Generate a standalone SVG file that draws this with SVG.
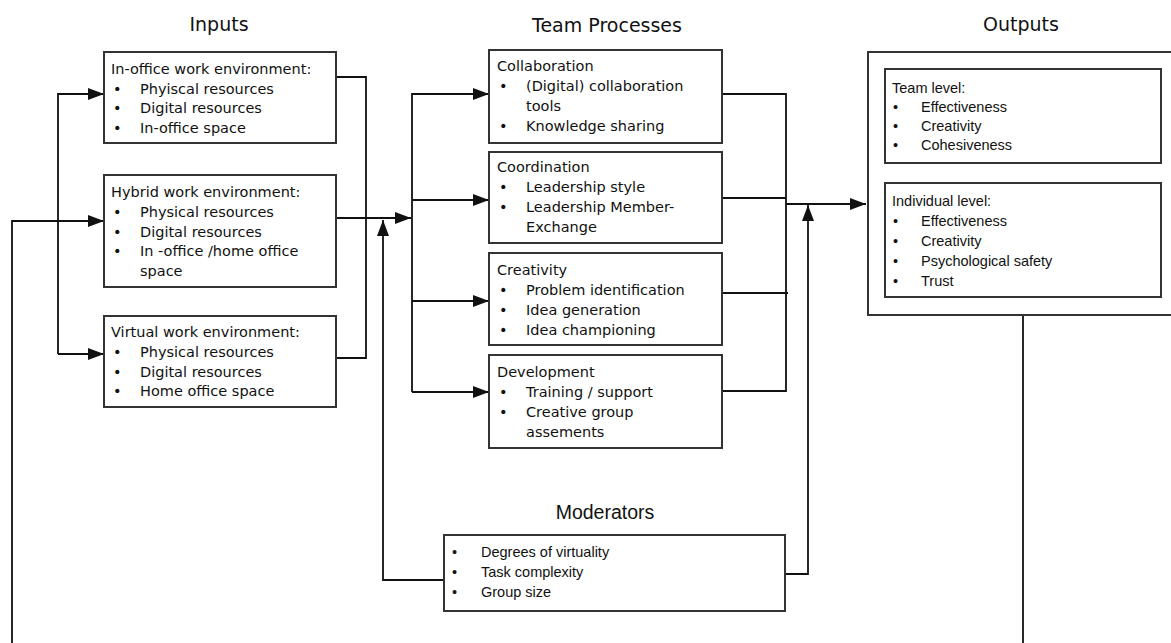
<svg xmlns="http://www.w3.org/2000/svg" width="1171" height="643" viewBox="0 0 1171 643">
  <defs>
    <marker id="arrow" markerUnits="userSpaceOnUse" markerWidth="16" markerHeight="12" refX="16" refY="6" orient="auto">
      <path d="M0,0 L16,6 L0,12 z" fill="#111"/>
    </marker>
    <style>
      .box { fill: #fff; stroke: #333; stroke-width: 2; }
      .wire { fill: none; stroke: #111; stroke-width: 1.8; }
      .arr { marker-end: url(#arrow); }
      .title { font-family: "DejaVu Sans", Verdana, sans-serif; font-size: 19px; fill: #111; text-anchor: middle; }
      .tv { font-family: "DejaVu Sans", Verdana, sans-serif; font-size: 14.5px; fill: #111; }
      .ta { font-family: "Liberation Sans", Arial, sans-serif; font-size: 14.5px; fill: #111; }
      .ttl-a { font-family: "Liberation Sans", Arial, sans-serif; font-size: 19.5px; fill: #111; text-anchor: middle; }
    </style>
  </defs>
  <rect width="1171" height="643" fill="#fff"/>

  <!-- section headings -->
  <text class="title" x="219" y="31">Inputs</text>
  <text class="title" x="607" y="32">Team Processes</text>
  <text class="title" x="1021" y="31">Outputs</text>
  <text class="ttl-a" x="605" y="519">Moderators</text>

  <!-- connectors -->
  <g id="connectors">
    <!-- feed into input boxes -->
    <polyline class="wire arr" points="58,354 58,94 104,94"/>
    <polyline class="wire arr" points="58,354 104,354"/>
    <polyline class="wire arr" points="12,643 12,221 104,221"/>
    <!-- inputs to processes -->
    <polyline class="wire" points="336,77 366,77 366,358 336,358"/>
    <polyline class="wire arr" points="336,218 411,218"/>
    <!-- process fan-out -->
    <polyline class="wire arr" points="412,392 412,94 489,94"/>
    <polyline class="wire arr" points="412,200 489,200"/>
    <polyline class="wire arr" points="412,301 489,301"/>
    <polyline class="wire arr" points="412,392 489,392"/>
    <!-- processes to outputs -->
    <polyline class="wire" points="722,94 786,94 786,391 722,391"/>
    <polyline class="wire" points="722,198 786,198"/>
    <polyline class="wire" points="722,293 788,293"/>
    <polyline class="wire arr" points="786,204 866,204"/>
    <!-- moderator links -->
    <polyline class="wire arr" points="444,580 383,580 383,220"/>
    <polyline class="wire arr" points="785,574 808,574 808,205"/>
    <!-- feedback from outputs -->
    <polyline class="wire" points="1023,315 1023,643"/>
  </g>

  <!-- input nodes -->
  <g id="in-office">
    <rect class="box" x="104" y="52" width="232" height="91"/>
    <text class="tv" x="111" y="74">In-office work environment:</text>
    <text class="tv" x="113" y="94">•</text><text class="tv" x="140" y="94">Phyiscal resources</text>
    <text class="tv" x="113" y="113">•</text><text class="tv" x="140" y="113">Digital resources</text>
    <text class="tv" x="113" y="133">•</text><text class="tv" x="140" y="133">In-office space</text>
  </g>
  <g id="hybrid">
    <rect class="box" x="104" y="175" width="232" height="112"/>
    <text class="tv" x="111" y="197">Hybrid work environment:</text>
    <text class="tv" x="113" y="217">•</text><text class="tv" x="140" y="217">Physical resources</text>
    <text class="tv" x="113" y="237">•</text><text class="tv" x="140" y="237">Digital resources</text>
    <text class="tv" x="113" y="256">•</text><text class="tv" x="140" y="256">In -office /home office</text>
    <text class="tv" x="140" y="276">space</text>
  </g>
  <g id="virtual">
    <rect class="box" x="104" y="316" width="232" height="91"/>
    <text class="tv" x="111" y="337">Virtual work environment:</text>
    <text class="tv" x="113" y="357">•</text><text class="tv" x="140" y="357">Physical resources</text>
    <text class="tv" x="113" y="377">•</text><text class="tv" x="140" y="377">Digital resources</text>
    <text class="tv" x="113" y="396">•</text><text class="tv" x="140" y="396">Home office space</text>
  </g>

  <!-- process nodes -->
  <g id="collaboration">
    <rect class="box" x="489" y="50" width="233" height="93"/>
    <text class="tv" x="497" y="71">Collaboration</text>
    <text class="tv" x="499" y="91">•</text><text class="tv" x="526" y="91">(Digital) collaboration</text>
    <text class="tv" x="526" y="111">tools</text>
    <text class="tv" x="499" y="131">•</text><text class="tv" x="526" y="131">Knowledge sharing</text>
  </g>
  <g id="coordination">
    <rect class="box" x="489" y="152" width="233" height="91"/>
    <text class="tv" x="497" y="172">Coordination</text>
    <text class="tv" x="499" y="192">•</text><text class="tv" x="526" y="192">Leadership style</text>
    <text class="tv" x="499" y="212">•</text><text class="tv" x="526" y="212">Leadership Member-</text>
    <text class="tv" x="526" y="232">Exchange</text>
  </g>
  <g id="creativity">
    <rect class="box" x="489" y="253" width="233" height="92"/>
    <text class="tv" x="497" y="275">Creativity</text>
    <text class="tv" x="499" y="295">•</text><text class="tv" x="526" y="295">Problem identification</text>
    <text class="tv" x="499" y="315">•</text><text class="tv" x="526" y="315">Idea generation</text>
    <text class="tv" x="499" y="335">•</text><text class="tv" x="526" y="335">Idea championing</text>
  </g>
  <g id="development">
    <rect class="box" x="489" y="355" width="233" height="93"/>
    <text class="tv" x="497" y="377">Development</text>
    <text class="tv" x="499" y="397">•</text><text class="tv" x="526" y="397">Training / support</text>
    <text class="tv" x="499" y="417">•</text><text class="tv" x="526" y="417">Creative group</text>
    <text class="tv" x="526" y="437">assements</text>
  </g>

  <!-- output node -->
  <g id="outputs">
    <rect class="box" x="868" y="52" width="310" height="263"/>
    <rect class="box" x="885" y="69" width="276" height="94"/>
    <text class="ta" x="892" y="93">Team level:</text>
    <text class="ta" x="893" y="112">•</text><text class="ta" x="921" y="112">Effectiveness</text>
    <text class="ta" x="893" y="131">•</text><text class="ta" x="921" y="131">Creativity</text>
    <text class="ta" x="893" y="150">•</text><text class="ta" x="921" y="150">Cohesiveness</text>
    <rect class="box" x="885" y="183" width="276" height="114"/>
    <text class="ta" x="892" y="206">Individual level:</text>
    <text class="ta" x="893" y="226">•</text><text class="ta" x="921" y="226">Effectiveness</text>
    <text class="ta" x="893" y="246">•</text><text class="ta" x="921" y="246">Creativity</text>
    <text class="ta" x="893" y="266">•</text><text class="ta" x="921" y="266">Psychological safety</text>
    <text class="ta" x="893" y="286">•</text><text class="ta" x="921" y="286">Trust</text>
  </g>

  <!-- moderator node -->
  <g id="moderators">
    <rect class="box" x="444" y="535" width="341" height="76"/>
    <text class="ta" x="452" y="557">•</text><text class="ta" x="481" y="557">Degrees of virtuality</text>
    <text class="ta" x="452" y="577">•</text><text class="ta" x="481" y="577">Task complexity</text>
    <text class="ta" x="452" y="597">•</text><text class="ta" x="481" y="597">Group size</text>
  </g>
</svg>
